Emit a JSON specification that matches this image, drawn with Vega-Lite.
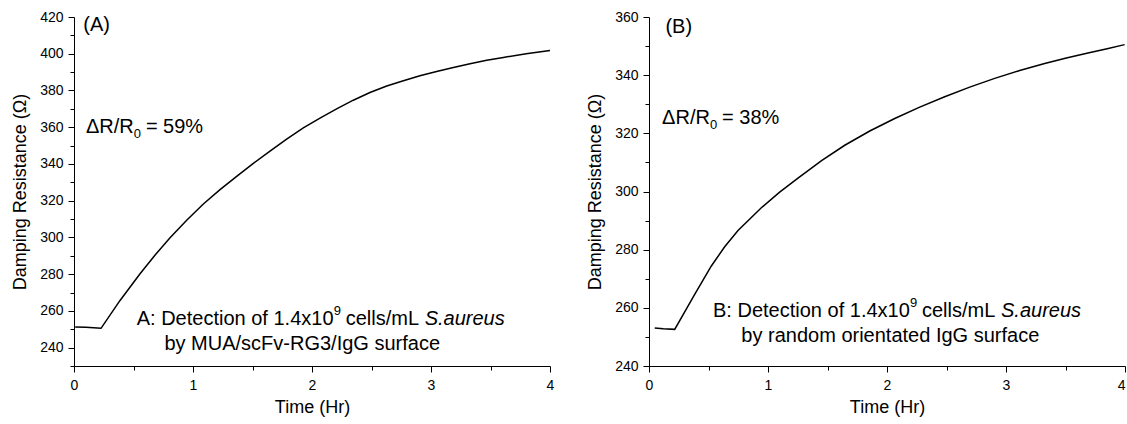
{
  "$schema": "https://vega.github.io/schema/vega-lite/v6.json",
  "background": "white",
  "padding": {"left": 11, "top": 10, "right": 2, "bottom": 5},
  "config": {
    "view": {"stroke": null},
    "font": "Liberation Sans",
    "axis": {
      "grid": false,
      "domainColor": "#000",
      "domainWidth": 1,
      "tickColor": "#000",
      "tickWidth": 1,
      "labelColor": "#000",
      "titleColor": "#000",
      "labelFont": "Liberation Sans",
      "titleFont": "Liberation Sans",
      "labelFontSize": 14,
      "titleFontSize": 18,
      "titleFontWeight": "normal",
      "labelFlush": false,
      "labelOverlap": false,
      "tickCount": 100
    },
    "text": {"font": "Liberation Sans", "color": "#000"},
    "concat": {"spacing": 32}
  },
  "datasets": {
    "curveA": [
      {"t": 0.01, "v": 251.2}, {"t": 0.1, "v": 251.1}, {"t": 0.227, "v": 250.5},
      {"t": 0.387, "v": 265.7}, {"t": 0.555, "v": 280.2}, {"t": 0.68, "v": 290.3},
      {"t": 0.807, "v": 299.8}, {"t": 0.947, "v": 309.4}, {"t": 1.087, "v": 318.2},
      {"t": 1.227, "v": 326.0}, {"t": 1.367, "v": 333.2}, {"t": 1.507, "v": 340.3},
      {"t": 1.647, "v": 347.0}, {"t": 1.787, "v": 353.5}, {"t": 1.927, "v": 359.6},
      {"t": 2.067, "v": 365.0}, {"t": 2.207, "v": 370.0}, {"t": 2.347, "v": 374.7},
      {"t": 2.487, "v": 378.9}, {"t": 2.628, "v": 382.4}, {"t": 2.768, "v": 385.3},
      {"t": 2.907, "v": 388.0}, {"t": 3.047, "v": 390.3}, {"t": 3.188, "v": 392.5},
      {"t": 3.328, "v": 394.5}, {"t": 3.468, "v": 396.4}, {"t": 3.608, "v": 398.0},
      {"t": 3.8, "v": 400.0}, {"t": 4.0, "v": 401.8}
    ],
    "curveB": [
      {"t": 0.048, "v": 253.1}, {"t": 0.12, "v": 252.8}, {"t": 0.216, "v": 252.6},
      {"t": 0.384, "v": 264.6}, {"t": 0.524, "v": 274.4}, {"t": 0.636, "v": 281.0},
      {"t": 0.748, "v": 286.6}, {"t": 0.944, "v": 294.4}, {"t": 1.098, "v": 299.8},
      {"t": 1.252, "v": 304.6}, {"t": 1.45, "v": 310.6}, {"t": 1.645, "v": 315.9},
      {"t": 1.855, "v": 320.8}, {"t": 2.065, "v": 325.1}, {"t": 2.275, "v": 329.0},
      {"t": 2.485, "v": 332.6}, {"t": 2.695, "v": 335.9}, {"t": 2.905, "v": 338.9},
      {"t": 3.115, "v": 341.6}, {"t": 3.325, "v": 344.0}, {"t": 3.507, "v": 345.9},
      {"t": 3.689, "v": 347.6}, {"t": 3.85, "v": 349.1}, {"t": 3.997, "v": 350.5}
    ],
    "textA": [
      {"t": 0.078, "v": 415.4, "label": "(A)"},
      {"t": 0.1, "v": 360, "label": "ΔR/R"},
      {"t": 0.604, "v": 360, "label": "= 59%"},
      {"t": 0.527, "v": 255.7, "label": "A: Detection of 1.4x10"},
      {"t": 2.283, "v": 255.7, "label": "cells/mL"},
      {"t": 0.76, "v": 242.1, "label": "by MUA/scFv-RG3/IgG surface"}
    ],
    "supA": [{"t": 2.182, "v": 255.7, "label": "9"}],
    "subA": [{"t": 0.503, "v": 360, "label": "0"}],
    "italicA": [{"t": 2.947, "v": 255.7, "label": "S.aureus"}],
    "textB": [
      {"t": 0.138, "v": 356.6, "label": "(B)"},
      {"t": 0.11, "v": 325.4, "label": "ΔR/R"},
      {"t": 0.614, "v": 325.4, "label": "= 38%"},
      {"t": 0.538, "v": 258.9, "label": "B: Detection of 1.4x10"},
      {"t": 2.294, "v": 258.9, "label": "cells/mL"},
      {"t": 0.776, "v": 250.3, "label": "by random orientated IgG surface"}
    ],
    "supB": [{"t": 2.193, "v": 258.9, "label": "9"}],
    "subB": [{"t": 0.513, "v": 325.4, "label": "0"}],
    "italicB": [{"t": 2.958, "v": 258.9, "label": "S.aureus"}]
  },
  "hconcat": [
    {
      "width": 476,
      "height": 349,
      "layer": [
        {
          "data": {"name": "curveA"},
          "mark": {"type": "line", "color": "#000", "strokeWidth": 1.5, "interpolate": "linear"},
          "encoding": {
            "x": {
              "field": "t", "type": "quantitative",
              "scale": {"domain": [0, 4], "nice": false, "zero": false},
              "axis": {
                "title": "Time (Hr)",
                "values": [0, 0.5, 1, 1.5, 2, 2.5, 3, 3.5, 4],
                "labelExpr": "datum.value % 1 === 0 ? toString(datum.value) : ''",
                "tickSize": {"condition": {"test": "datum.value % 1 === 0", "value": 6}, "value": 4},
                "labelPadding": 6,
                "titlePadding": 6
              }
            },
            "y": {
              "field": "v", "type": "quantitative",
              "scale": {"domain": [230, 420], "nice": false, "zero": false},
              "axis": {
                "title": "Damping Resistance (Ω)",
                "values": [230, 240, 250, 260, 270, 280, 290, 300, 310, 320, 330, 340, 350, 360, 370, 380, 390, 400, 410, 420],
                "labelExpr": "datum.value % 20 === 0 ? toString(datum.value) : ''",
                "tickSize": {"condition": {"test": "datum.value % 20 === 0", "value": 6}, "value": 4},
                "labelPadding": 5,
                "titlePadding": 10
              }
            }
          }
        },
        {
          "data": {"name": "textA"},
          "mark": {"type": "text", "align": "left", "baseline": "middle", "fontSize": 20},
          "encoding": {
            "x": {"field": "t", "type": "quantitative"},
            "y": {"field": "v", "type": "quantitative"},
            "text": {"field": "label"}
          }
        },
        {
          "data": {"name": "supA"},
          "mark": {"type": "text", "align": "left", "baseline": "middle", "fontSize": 13, "dy": -8},
          "encoding": {
            "x": {"field": "t", "type": "quantitative"},
            "y": {"field": "v", "type": "quantitative"},
            "text": {"field": "label"}
          }
        },
        {
          "data": {"name": "subA"},
          "mark": {"type": "text", "align": "left", "baseline": "middle", "fontSize": 13, "dy": 7},
          "encoding": {
            "x": {"field": "t", "type": "quantitative"},
            "y": {"field": "v", "type": "quantitative"},
            "text": {"field": "label"}
          }
        },
        {
          "data": {"name": "italicA"},
          "mark": {"type": "text", "align": "left", "baseline": "middle", "fontSize": 20, "fontStyle": "italic"},
          "encoding": {
            "x": {"field": "t", "type": "quantitative"},
            "y": {"field": "v", "type": "quantitative"},
            "text": {"field": "label"}
          }
        }
      ]
    },
    {
      "width": 476,
      "height": 349,
      "layer": [
        {
          "data": {"name": "curveB"},
          "mark": {"type": "line", "color": "#000", "strokeWidth": 1.5, "interpolate": "linear"},
          "encoding": {
            "x": {
              "field": "t", "type": "quantitative",
              "scale": {"domain": [0, 4], "nice": false, "zero": false},
              "axis": {
                "title": "Time (Hr)",
                "values": [0, 0.5, 1, 1.5, 2, 2.5, 3, 3.5, 4],
                "labelExpr": "datum.value % 1 === 0 ? toString(datum.value) : ''",
                "labelAlign": {"condition": {"test": "datum.value === 4", "value": "right"}, "value": "center"},
                "tickSize": {"condition": {"test": "datum.value % 1 === 0", "value": 6}, "value": 4},
                "labelPadding": 6,
                "titlePadding": 6
              }
            },
            "y": {
              "field": "v", "type": "quantitative",
              "scale": {"domain": [240, 360], "nice": false, "zero": false},
              "axis": {
                "title": "Damping Resistance (Ω)",
                "values": [240, 250, 260, 270, 280, 290, 300, 310, 320, 330, 340, 350, 360],
                "labelExpr": "datum.value % 20 === 0 ? toString(datum.value) : ''",
                "tickSize": {"condition": {"test": "datum.value % 20 === 0", "value": 6}, "value": 4},
                "labelPadding": 5,
                "titlePadding": 10
              }
            }
          }
        },
        {
          "data": {"name": "textB"},
          "mark": {"type": "text", "align": "left", "baseline": "middle", "fontSize": 20},
          "encoding": {
            "x": {"field": "t", "type": "quantitative"},
            "y": {"field": "v", "type": "quantitative"},
            "text": {"field": "label"}
          }
        },
        {
          "data": {"name": "supB"},
          "mark": {"type": "text", "align": "left", "baseline": "middle", "fontSize": 13, "dy": -8},
          "encoding": {
            "x": {"field": "t", "type": "quantitative"},
            "y": {"field": "v", "type": "quantitative"},
            "text": {"field": "label"}
          }
        },
        {
          "data": {"name": "subB"},
          "mark": {"type": "text", "align": "left", "baseline": "middle", "fontSize": 13, "dy": 7},
          "encoding": {
            "x": {"field": "t", "type": "quantitative"},
            "y": {"field": "v", "type": "quantitative"},
            "text": {"field": "label"}
          }
        },
        {
          "data": {"name": "italicB"},
          "mark": {"type": "text", "align": "left", "baseline": "middle", "fontSize": 20, "fontStyle": "italic"},
          "encoding": {
            "x": {"field": "t", "type": "quantitative"},
            "y": {"field": "v", "type": "quantitative"},
            "text": {"field": "label"}
          }
        }
      ]
    }
  ]
}
